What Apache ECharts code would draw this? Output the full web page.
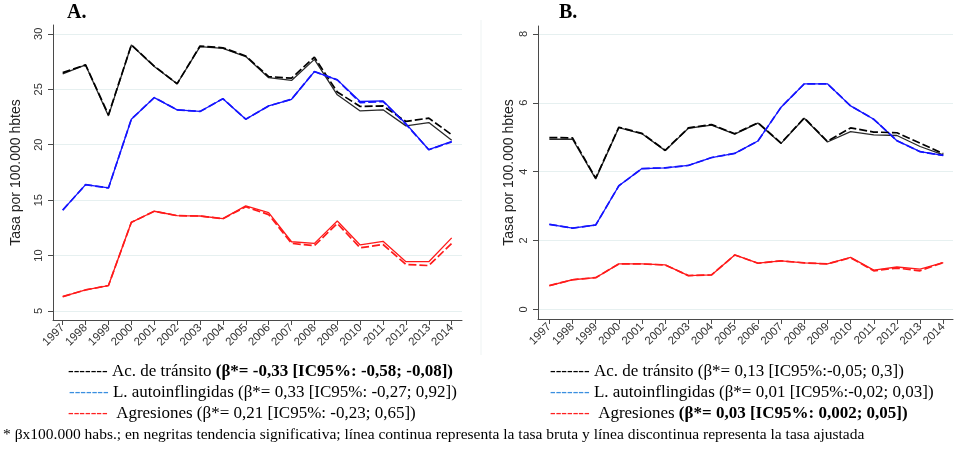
<!DOCTYPE html>
<html>
<head>
<meta charset="utf-8">
<script src="https://cdn.jsdelivr.net/npm/echarts@6/dist/echarts.min.js"></script>
<style>html,body{margin:0;padding:0;background:#fff}#c{width:956px;height:450px}</style>
</head>
<body>
<div id="c"></div>
<script>
const years = [1997,1998,1999,2000,2001,2002,2003,2004,2005,2006,2007,2008,2009,2010,2011,2012,2013,2014];
const yTicksA = [5,10,15,20,25,30];
const yTicksB = [0,2,4,6,8];

// Panel A (tasa por 100.000 hbtes)
const aTransitoBruta  = [26.4,27.2,22.6,29.0,27.05,25.5,28.85,28.7,27.95,26.05,25.8,27.7,24.5,23.05,23.15,21.7,22.0,20.4];
const aTransitoAjust  = [26.5,27.2,22.7,29.0,27.1,25.5,28.9,28.75,28.0,26.15,26.0,27.9,24.75,23.45,23.5,22.1,22.4,20.9];
const aAutoBruta      = [14.1,16.4,16.1,22.3,24.25,23.15,23.0,24.15,22.3,23.5,24.1,26.6,25.85,23.9,23.95,21.9,19.55,20.3];
const aAutoAjust      = [14.1,16.4,16.1,22.3,24.25,23.15,23.0,24.15,22.3,23.5,24.1,26.6,25.85,23.8,23.9,21.85,19.55,20.25];
const aAgresBruta     = [6.3,6.9,7.3,13.0,14.0,13.6,13.57,13.33,14.48,13.87,11.25,11.1,13.12,10.96,11.29,9.45,9.45,11.6];
const aAgresAjust     = [6.3,6.9,7.3,13.0,14.0,13.6,13.57,13.33,14.4,13.7,11.1,10.9,12.9,10.7,11.0,9.2,9.1,11.1];

// Panel B
const bTransitoBruta  = [4.94,4.94,3.79,5.28,5.1,4.61,5.26,5.35,5.09,5.41,4.82,5.55,4.86,5.16,5.07,5.05,4.73,4.49];
const bTransitoAjust  = [4.99,4.98,3.81,5.29,5.11,4.62,5.27,5.37,5.1,5.42,4.83,5.56,4.88,5.27,5.15,5.13,4.83,4.52];
const bAutoBruta      = [2.47,2.36,2.45,3.59,4.09,4.11,4.18,4.41,4.53,4.89,5.87,6.55,6.55,5.91,5.52,4.9,4.58,4.47];
const bAutoAjust      = [2.47,2.36,2.45,3.59,4.09,4.11,4.18,4.41,4.53,4.89,5.87,6.55,6.55,5.91,5.52,4.9,4.58,4.47];
const bAgresBruta     = [0.69,0.86,0.92,1.32,1.32,1.29,0.98,1.0,1.58,1.34,1.41,1.35,1.32,1.51,1.14,1.23,1.17,1.36];
const bAgresAjust     = [0.69,0.86,0.92,1.32,1.32,1.29,0.98,1.0,1.58,1.34,1.41,1.35,1.32,1.5,1.12,1.2,1.12,1.36];

const BLACK = '#000000', BLUE = '#1414ff', RED = '#ff1a1a';
const pairs = arr => years.map((y, i) => [y, arr[i]]);

function line(name, arr, color, dashed, idx) {
  return {
    name, type: 'line', xAxisIndex: idx, yAxisIndex: idx,
    data: pairs(arr), symbol: 'none', silent: true, animation: false,
    lineStyle: dashed
      ? { color, width: 1.7, type: [8, 3] }
      : { color: color === BLACK ? '#2a2a2a' : color, width: 1.3 },
    z: dashed ? 3 : 2
  };
}

function xAxis(idx, min, max) {
  return {
    type: 'value', gridIndex: idx, min, max,
    axisLine: { show: true, onZero: false, lineStyle: { color: '#4a4a4a', width: 1 } },
    axisTick: { show: true, length: 5, inside: false, customValues: years, lineStyle: { color: '#4a4a4a' } },
    axisLabel: { customValues: years, rotate: 45, fontSize: 11.5, color: '#333', margin: 6,
      formatter: v => String(v),
      fontFamily: 'Liberation Sans, Arial, sans-serif' },
    splitLine: { show: false }
  };
}
function yAxis(idx, min, max, ticks, gap) {
  return {
    type: 'value', gridIndex: idx, min, max,
    name: 'Tasa por 100.000 hbtes', nameLocation: 'middle', nameGap: gap,
    nameTextStyle: { fontSize: 14, color: '#222', fontFamily: 'Liberation Sans, Arial, sans-serif' },
    axisLine: { show: true, lineStyle: { color: '#4a4a4a', width: 1 } },
    axisTick: { show: true, length: 5, customValues: ticks, lineStyle: { color: '#4a4a4a' } },
    axisLabel: { customValues: ticks, rotate: 90, fontSize: 11, color: '#333', margin: 9,
      fontFamily: 'Liberation Sans, Arial, sans-serif' },
    splitLine: { show: true, lineStyle: { color: '#e6f0f0', width: 1 } }
  };
}

const serif = 'Liberation Serif, Times New Roman, serif';
const FS = 17;
function legendText(x, y, text) {
  return { type: 'text', left: x, top: y, style: { text, rich: richStyles, fontFamily: serif, fontSize: FS, fill: '#000' } };
}
const richStyles = {
  k: { fill: '#000', fontFamily: serif, fontSize: FS },
  bl: { fill: '#3a8fe0', fontFamily: serif, fontSize: FS },
  r: { fill: '#ff2020', fontFamily: serif, fontSize: FS },
  n: { fill: '#000', fontFamily: serif, fontSize: FS },
  b: { fill: '#000', fontFamily: serif, fontSize: FS, fontWeight: 'bold' }
};

const option = {
  animation: false,
  backgroundColor: '#ffffff',
  grid: [
    { left: 53, top: 25, width: 409, height: 295 },
    { left: 538, top: 26, width: 415, height: 293 }
  ],
  xAxis: [xAxis(0, 1996.576, 2014.45), xAxis(1, 1996.51, 2014.42)],
  yAxis: [yAxis(0, 4.19, 30.8, yTicksA, 30), yAxis(1, -0.28, 8.23, yTicksB, 22)],
  series: [
    line('Ac. de tránsito bruta', aTransitoBruta, BLACK, false, 0),
    line('Ac. de tránsito ajustada', aTransitoAjust, BLACK, true, 0),
    line('L. autoinflingidas bruta', aAutoBruta, BLUE, false, 0),
    line('L. autoinflingidas ajustada', aAutoAjust, BLUE, true, 0),
    line('Agresiones bruta', aAgresBruta, RED, false, 0),
    line('Agresiones ajustada', aAgresAjust, RED, true, 0),
    line('Ac. de tránsito bruta B', bTransitoBruta, BLACK, false, 1),
    line('Ac. de tránsito ajustada B', bTransitoAjust, BLACK, true, 1),
    line('L. autoinflingidas bruta B', bAutoBruta, BLUE, false, 1),
    line('L. autoinflingidas ajustada B', bAutoAjust, BLUE, true, 1),
    line('Agresiones bruta B', bAgresBruta, RED, false, 1),
    line('Agresiones ajustada B', bAgresAjust, RED, true, 1)
  ],
  graphic: [
    { type: 'line', shape: { x1: 481, y1: 20, x2: 481, y2: 355 }, style: { stroke: '#eef3f3', lineWidth: 1 }, silent: true },
    { type: 'text', left: 67, top: 3, style: { text: 'A.', fontFamily: serif, fontSize: 20, fontWeight: 'bold', fill: '#000' } },
    { type: 'text', left: 559, top: 3, style: { text: 'B.', fontFamily: serif, fontSize: 20, fontWeight: 'bold', fill: '#000' } },
    legendText(68, 363, '{k|-------} {n|Ac. de tránsito }{b|(β*= -0,33 [IC95%: -0,58; -0,08])}'),
    legendText(69, 384, '{bl|-------} {n|L. autoinflingidas (β*= 0,33 [IC95%: -0,27; 0,92])}'),
    legendText(68, 405, '{r|-------}  {n|Agresiones (β*= 0,21 [IC95%: -0,23; 0,65])}'),
    legendText(550, 363, '{k|-------} {n|Ac. de tránsito (β*= 0,13 [IC95%:-0,05; 0,3])}'),
    legendText(550, 384, '{bl|-------} {n|L. autoinflingidas (β*= 0,01 [IC95%:-0,02; 0,03])}'),
    legendText(550, 405, '{r|-------}  {n|Agresiones }{b|(β*= 0,03 [IC95%: 0,002; 0,05])}'),
    { type: 'text', left: 3, top: 427, style: { text: '* βx100.000 habs.; en negritas tendencia significativa; línea continua representa la tasa bruta y línea discontinua representa la tasa ajustada', fontFamily: serif, fontSize: 15.5, fill: '#000' } }
  ]
};
const chart = echarts.init(document.getElementById('c'), null, { renderer: 'canvas' });
chart.setOption(option);
</script>
</body>
</html>
